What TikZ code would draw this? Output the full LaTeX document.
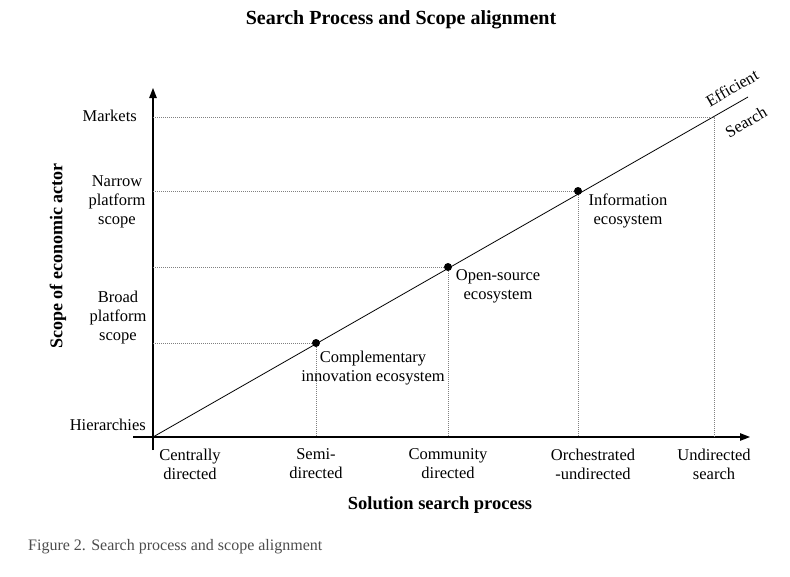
\documentclass[tikz,border=0pt]{standalone}
\usepackage{fontspec}
\setmainfont{Liberation Serif}
\usetikzlibrary{arrows.meta}
\begin{document}
\begin{tikzpicture}[x=1pt,y=-1pt,
  lbl/.style={font=\fontsize{16.5}{19}\selectfont, align=center, inner sep=0pt},
  bold/.style={font=\fontsize{18.5}{20}\selectfont\bfseries, inner sep=0pt},
  axis/.style={line width=1.2pt, -{Triangle[length=10pt,width=7.5pt]}},
  guide/.style={gray, line width=0.6pt, dash pattern=on 1pt off 1pt},
  pt/.style={circle, fill=black, inner sep=0pt, minimum size=8pt}]
\useasboundingbox (0,0) rectangle (790,576);

% titles
\node[bold, font=\fontsize{20}{22}\selectfont\bfseries] (title) at (401,20) {Search Process and Scope alignment};
\node[bold] (xtitle) at (440,505) {Solution search process};
\node[bold, rotate=90, font=\fontsize{18}{20}\selectfont\bfseries] (ytitle) at (58,256) {Scope of economic actor};
\node[anchor=west, inner sep=0pt, text=black!70, font=\fontsize{16}{18}\selectfont] (caption) at (28,547) {Figure 2. Search process and scope alignment};

% axes
\coordinate (O) at (153,437);
\coordinate (ytop) at (153,88);
\coordinate (ybot) at (153,450);
\coordinate (xleft) at (133,437);
\coordinate (xright) at (750,437);
\draw[line width=1.2pt] (ybot) -- (O);
\draw[axis] (O) -- (ytop);
\draw[line width=1.2pt] (xleft) -- (O);
\draw[axis] (O) -- (xright);

% efficient search line
\coordinate (lend) at (748,97);
\draw[line width=0.8pt] (O) -- (lend);
\node[lbl, rotate=30] (eff) at (732,88) {Efficient};
\node[lbl, rotate=30] (srch) at (746,122) {Search};

% points on the line
\node[pt] (p1) at (316,343) {};
\node[pt] (p2) at (448,267) {};
\node[pt] (p3) at (578,191) {};
\coordinate (p4) at (714,117);

% guide lines to axes
\coordinate (y1) at (153,343);
\coordinate (y2) at (153,267);
\coordinate (y3) at (153,191);
\coordinate (y4) at (153,117);
\coordinate (x1) at (316,437);
\coordinate (x2) at (448,437);
\coordinate (x3) at (578,437);
\coordinate (x4) at (714,437);
\draw[guide] (y1) -- (p1) -- (x1);
\draw[guide] (y2) -- (p2) -- (x2);
\draw[guide] (y3) -- (p3) -- (x3);
\draw[guide] (y4) -- (p4) -- (x4);

% point labels
\node[lbl] (l1) at (373,368) {Complementary\\innovation ecosystem};
\node[lbl] (l2) at (498,286) {Open-source\\ecosystem};
\node[lbl] (l3) at (628,211) {Information\\ecosystem};

% y axis labels
\node[lbl, anchor=east] (ym) at (137,116) {Markets};
\node[lbl] (yn) at (117,202) {Narrow\\platform\\scope};
\node[lbl] (yb) at (118,318) {Broad\\platform\\scope};
\node[lbl, anchor=east] (yh) at (146,425) {Hierarchies};

% x axis labels
\node[lbl] (xa) at (190,464) {Centrally\\directed};
\node[lbl] (xb) at (316,464) {Semi-\\directed};
\node[lbl] (xc) at (448,464) {Community\\directed};
\node[lbl] (xd) at (593,464) {Orchestrated\\-undirected};
\node[lbl] (xe) at (714,464) {Undirected\\search};
\end{tikzpicture}
\end{document}
